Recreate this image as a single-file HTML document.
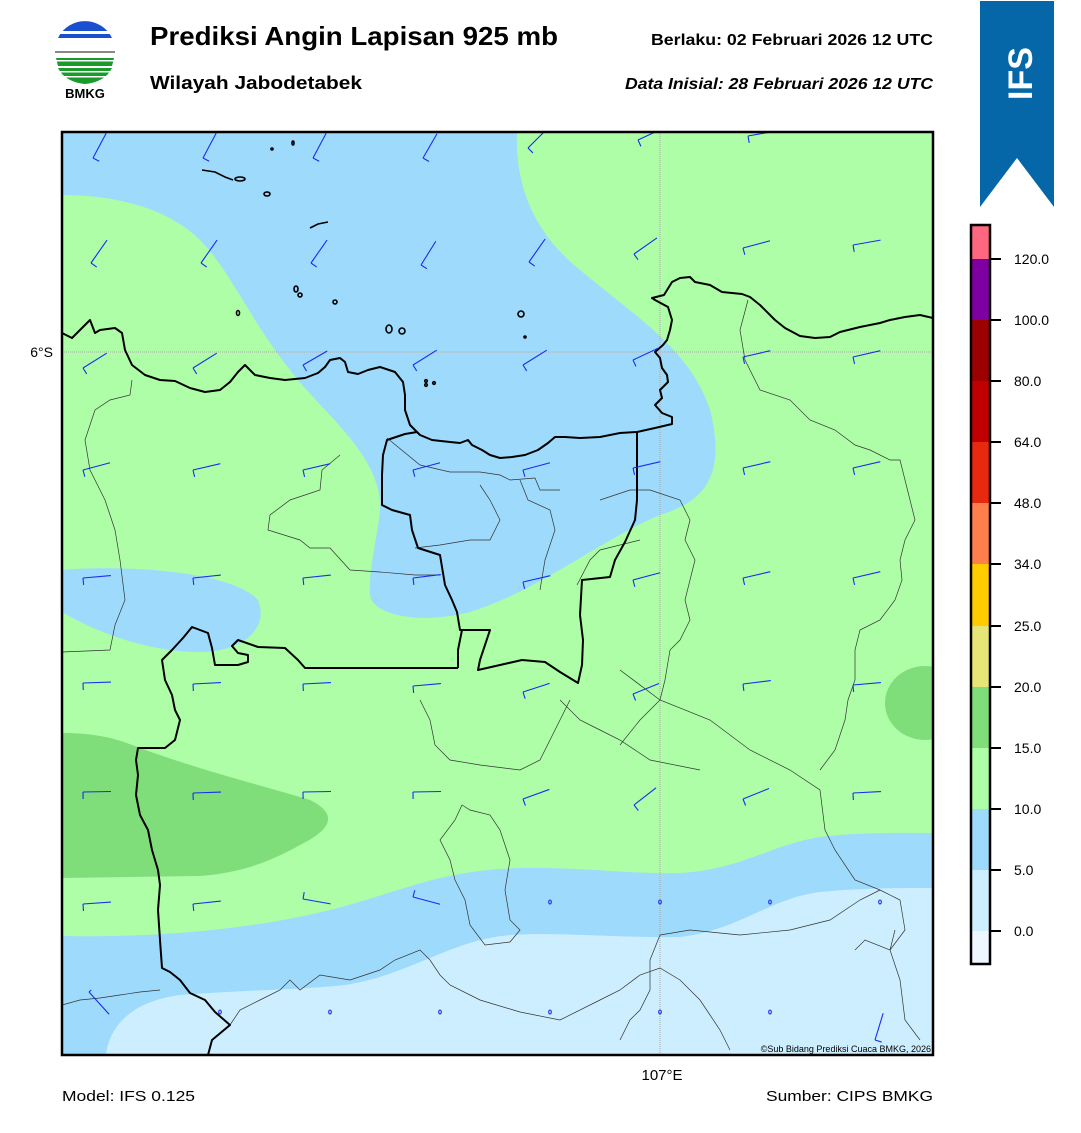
<!DOCTYPE html>
<html><head><meta charset="utf-8"><style>
body{margin:0;background:#fff;width:1081px;height:1128px;overflow:hidden;font-family:"Liberation Sans",Arial,sans-serif}
</style></head><body>
<svg width="1081" height="1128" viewBox="0 0 1081 1128" xmlns="http://www.w3.org/2000/svg" font-family="Liberation Sans, Arial, sans-serif">
<g>
<path d="M58,38 A30,30 0 0 1 112,38 Z" fill="#1a4fd0"/>
<rect x="56" y="31" width="58" height="3" fill="#fff"/>
<rect x="56" y="40" width="58" height="3" fill="#fff"/>
<rect x="55" y="51" width="60" height="2" fill="#888"/>
<path d="M56,58 L114,58 L112,66 L58,66 Z" fill="#1a9a2a"/>
<rect x="56" y="60" width="58" height="1.5" fill="#fff"/>
<path d="M58,68 L112,68 Q105,82 85,84 Q65,82 58,68 Z" fill="#1a9a2a"/>
<rect x="58" y="71" width="54" height="1.5" fill="#fff"/>
<rect x="60" y="76" width="50" height="1.5" fill="#fff"/>
<text x="85" y="98" font-size="13" font-weight="bold" text-anchor="middle">BMKG</text>
</g>
<text x="150" y="45" font-size="26" font-weight="bold" textLength="408" lengthAdjust="spacingAndGlyphs">Prediksi Angin Lapisan 925 mb</text>
<text x="150" y="89" font-size="18" font-weight="bold" textLength="212" lengthAdjust="spacingAndGlyphs">Wilayah Jabodetabek</text>
<text x="651" y="45" font-size="16" font-weight="bold" textLength="282" lengthAdjust="spacingAndGlyphs">Berlaku:  02 Februari 2026 12 UTC</text>
<text x="625" y="89" font-size="16" font-weight="bold" font-style="italic" textLength="308" lengthAdjust="spacingAndGlyphs">Data Inisial:  28 Februari 2026 12 UTC</text>
<path d="M980,1 L1054,1 L1054,207 L1017,158 L980,207 Z" fill="#0567a8"/>
<text x="0" y="0" font-size="34" font-weight="bold" fill="#fff" transform="translate(1032,100) rotate(-90)">IFS</text>

<defs><clipPath id="c"><rect x="62" y="132" width="871" height="923"/></clipPath></defs>
<g clip-path="url(#c)">
<rect x="62" y="132" width="871" height="923" fill="#adfea6"/>
<path d="M62,132 L517,132 C515,180 530,230 580,270 C640,320 690,350 710,410 C725,470 710,500 660,515 C600,540 540,590 470,612 C420,625 372,615 370,595 C368,565 382,520 380,500 C375,450 320,410 290,370 C250,320 230,270 200,240 C170,210 120,195 62,195 Z" fill="#9edafb"/>
<path d="M62,570 C120,565 230,570 258,600 C270,630 240,652 200,652 C160,652 110,640 62,612 Z" fill="#9edafb"/>
<path d="M62,733 C100,733 120,740 140,748 C200,770 260,785 310,800 C340,815 330,830 300,845 C270,862 240,873 200,876 L62,878 Z" fill="#7fde7a"/>
<ellipse cx="925" cy="703" rx="40" ry="37" fill="#7fde7a"/>
<path d="M62,936 C150,938 250,930 330,910 C400,893 440,868 530,868 C600,868 620,874 680,873 C740,870 770,845 820,837 C860,832 900,833 933,833 L933,1055 L62,1055 Z" fill="#9edafb"/>
<path d="M106,1055 C110,1020 140,1000 180,995 C240,990 300,990 345,985 C410,975 450,940 510,935 C560,932 620,938 680,937 C740,930 770,898 820,892 C860,888 900,888 933,888 L933,1055 Z" fill="#cdeefe"/>
<line x1="62" y1="352" x2="933" y2="352" stroke="#aaa" stroke-width="1" stroke-dasharray="1,1"/>
<line x1="660" y1="132" x2="660" y2="1055" stroke="#aaa" stroke-width="1" stroke-dasharray="1,1"/>
<g fill="none" stroke="#333" stroke-width="0.7">
<path d="M132,380 L130,395 L110,400 L95,410 L85,440 L90,470 L105,500 L115,530 L120,560 L125,600 L115,625 L110,650 L62,652"/>
<path d="M340,455 L322,470 L320,490 L290,500 L270,515 L268,530 L300,540 L310,548 L330,548 L350,570 L380,572 L415,575 L440,575"/>
<path d="M387,438 L420,465 L450,472 L480,472 L500,475 L510,480 L535,478 L540,490 L560,490"/>
<path d="M520,480 L528,500 L550,510 L555,530 L545,560 L540,590"/>
<path d="M415,548 L440,545 L470,540 L490,540 L500,520 L490,500 L480,485"/>
<path d="M577,585 L590,560 L600,550 L620,545 L640,540"/>
<path d="M600,500 L630,490 L650,490 L680,500 L690,520 L685,540 L695,560 L685,600 L690,620 L680,640 L670,650 L665,680 L660,700 L640,720 L620,745"/>
<path d="M560,700 L580,720 L600,730 L620,740 L650,760 L700,770"/>
<path d="M570,700 L560,720 L550,740 L540,760 L520,770 L480,765 L450,760 L435,745 L430,720 L420,700"/>
<path d="M748,300 L740,330 L745,360 L760,390 L790,400 L810,420 L835,430 L855,445 L870,450 L890,460 L900,460 L905,480 L910,500 L915,520 L905,540 L900,560 L902,580 L895,600 L880,620 L860,630 L855,650 L855,680 L848,700 L845,720 L835,750 L820,770"/>
<path d="M620,670 L660,700 L710,720 L750,750 L790,770 L820,790 L825,830 L835,850 L855,880 L880,890 L900,900 L905,930 L890,950 L900,980 L905,1020 L920,1040"/>
<path d="M855,950 L865,940 L890,950 L895,930"/>
<path d="M462,805 L470,810 L490,815 L500,830 L510,860 L505,890 L510,920 L520,930 L510,942 L485,945 L470,925 L465,900 L455,880 L450,860 L440,840 L455,820 Z"/>
<path d="M230,1025 L240,1010 L260,1000 L280,990 L290,980 L300,990 L320,975 L350,980 L380,970 L395,960 L420,950 L430,960 L440,975 L450,985 L480,1000 L520,1012 L560,1020 L600,1000 L620,990 L640,975 L660,968 L680,980 L700,1000 L710,1015 L720,1030 L730,1050"/>
<path d="M660,935 L650,960 L650,990 L640,1010 L630,1020 L620,1040"/>
<path d="M660,935 L690,930 L740,935 L790,930 L830,920 L860,900 L880,890"/>
<path d="M62,1005 L80,1000 L100,998 L120,995 L140,992 L160,990"/>
</g>
<g fill="none" stroke="#000" stroke-width="2" stroke-linejoin="round">
<path d="M62,333 L72,338 L80,330 L90,320 L95,333 L100,330 L115,328 L122,333 L125,350 L132,365 L145,375 L160,380 L175,381 L190,388 L205,392 L220,390 L230,382 L238,372 L245,365 L255,375 L270,378 L285,380 L305,378 L318,373 L325,367 L330,360 L340,358 L345,362 L348,372 L358,374 L368,370 L380,367 L395,372 L403,382 L405,395 L405,410 L410,425 L420,435 L432,440 L450,442 L460,443 L468,440 L472,445 L482,450 L490,455 L500,458 L512,457 L525,455 L538,450 L548,443 L555,437 L565,437 L580,438 L600,437 L620,433 L637,432 L655,428 L672,424 L672,417 L662,413 L655,405 L662,398 L660,390 L668,382 L667,375 L662,368 L660,358 L655,352 L663,345 L667,340 L670,330 L672,320 L668,307 L655,300 L652,298 L664,295 L672,282 L680,278 L690,277 L695,282 L710,285 L722,292 L742,294 L750,297 L760,305 L775,320 L785,328 L800,336 L815,338 L830,337 L840,332 L860,327 L880,323 L890,320 L905,317 L920,315 L933,318"/>
<path d="M417,432 L405,434 L387,440 L383,455 L382,475 L382,505 L392,510 L410,515 L412,530 L418,548 L440,555 L445,585 L452,600 L457,612 L460,630 L490,630 L480,660 L478,670 L500,665 L522,660 L545,662 L560,672 L578,683 L582,665 L583,640 L580,615 L582,580 L610,577 L615,560 L625,542 L635,520 L637,500 L637,432"/>
<path d="M458,668 L458,650 L462,630"/>
<path d="M208,1055 L212,1040 L230,1025 L215,1012 L205,1000 L190,993 L180,980 L170,972 L162,968 L160,940 L158,910 L160,885 L158,870 L152,850 L148,830 L140,815 L136,795 L138,775 L136,760 L138,748 L152,748 L165,748 L175,740 L180,720 L175,710 L172,695 L165,680 L162,660 L172,650 L183,638 L192,627 L208,633 L212,648 L215,665 L238,665 L248,662 L248,655 L238,653 L232,646 L238,640 L258,647 L285,648 L298,660 L305,668 L330,668 L360,668 L400,668 L458,668"/>
</g>
<g fill="none" stroke="#000" stroke-width="1.6">
<path d="M202,170 L215,172 L225,177 L233,180"/><ellipse cx="240" cy="179" rx="5" ry="2"/>
<ellipse cx="267" cy="194" rx="3" ry="2"/><ellipse cx="293" cy="143" rx="1" ry="2"/><ellipse cx="272" cy="149" rx="1" ry="1"/>
<path d="M310,228 L318,224 L328,222"/>
<ellipse cx="296" cy="289" rx="2" ry="3"/><ellipse cx="300" cy="295" rx="2" ry="2"/><ellipse cx="335" cy="302" rx="2" ry="2"/>
<ellipse cx="238" cy="313" rx="1.5" ry="2.5"/><ellipse cx="389" cy="329" rx="3" ry="4"/><ellipse cx="402" cy="331" rx="3" ry="3"/>
<ellipse cx="521" cy="314" rx="3" ry="3"/><circle cx="525" cy="337" r="1"/>
<circle cx="426" cy="381" r="1.3"/><circle cx="426" cy="385" r="1.3"/><circle cx="434" cy="383" r="1.3"/>
</g>
<g fill="none" stroke="#1a2cf0" stroke-width="1.1">
<g transform="translate(93,158) rotate(-62)"><path d="M0,0 H28 M0,0 V7"/></g>
<g transform="translate(203,158) rotate(-62)"><path d="M0,0 H28 M0,0 V7"/></g>
<g transform="translate(313,158) rotate(-62)"><path d="M0,0 H28 M0,0 V7"/></g>
<g transform="translate(423,158) rotate(-60)"><path d="M0,0 H28 M0,0 V7"/></g>
<g transform="translate(528,148) rotate(-45)"><path d="M0,0 H28 M0,0 V7"/></g>
<g transform="translate(638,140) rotate(-25)"><path d="M0,0 H28 M0,0 V7"/></g>
<g transform="translate(748,136) rotate(-10)"><path d="M0,0 H28 M0,0 V7"/></g>
<g transform="translate(91,263) rotate(-55)"><path d="M0,0 H28 M0,0 V7"/></g>
<g transform="translate(201,263) rotate(-55)"><path d="M0,0 H28 M0,0 V7"/></g>
<g transform="translate(311,263) rotate(-55)"><path d="M0,0 H28 M0,0 V7"/></g>
<g transform="translate(421,265) rotate(-58)"><path d="M0,0 H28 M0,0 V7"/></g>
<g transform="translate(529,262) rotate(-55)"><path d="M0,0 H28 M0,0 V7"/></g>
<g transform="translate(634,254) rotate(-35)"><path d="M0,0 H28 M0,0 V7"/></g>
<g transform="translate(743,248) rotate(-15)"><path d="M0,0 H28 M0,0 V7"/></g>
<g transform="translate(853,245) rotate(-10)"><path d="M0,0 H28 M0,0 V7"/></g>
<g transform="translate(83,368) rotate(-32)"><path d="M0,0 H28 M0,0 V7"/></g>
<g transform="translate(193,368) rotate(-32)"><path d="M0,0 H28 M0,0 V7"/></g>
<g transform="translate(303,365) rotate(-30)"><path d="M0,0 H28 M0,0 V7"/></g>
<g transform="translate(413,365) rotate(-32)"><path d="M0,0 H28 M0,0 V7"/></g>
<g transform="translate(523,365) rotate(-32)"><path d="M0,0 H28 M0,0 V7"/></g>
<g transform="translate(633,360) rotate(-25)"><path d="M0,0 H28 M0,0 V7"/></g>
<g transform="translate(743,357) rotate(-13)"><path d="M0,0 H28 M0,0 V7"/></g>
<g transform="translate(853,357) rotate(-13)"><path d="M0,0 H28 M0,0 V7"/></g>
<g transform="translate(83,470) rotate(-15)"><path d="M0,0 H28 M0,0 V7"/></g>
<g transform="translate(193,470) rotate(-13)"><path d="M0,0 H28 M0,0 V7"/></g>
<g transform="translate(303,470) rotate(-13)"><path d="M0,0 H28 M0,0 V7"/></g>
<g transform="translate(413,470) rotate(-15)"><path d="M0,0 H28 M0,0 V7"/></g>
<g transform="translate(523,470) rotate(-15)"><path d="M0,0 H28 M0,0 V7"/></g>
<g transform="translate(633,468) rotate(-13)"><path d="M0,0 H28 M0,0 V7"/></g>
<g transform="translate(743,468) rotate(-13)"><path d="M0,0 H28 M0,0 V7"/></g>
<g transform="translate(853,468) rotate(-13)"><path d="M0,0 H28 M0,0 V7"/></g>
<g transform="translate(83,578) rotate(-5)"><path d="M0,0 H28 M0,0 V7"/></g>
<g transform="translate(193,578) rotate(-6)"><path d="M0,0 H28 M0,0 V7"/></g>
<g transform="translate(303,578) rotate(-6)"><path d="M0,0 H28 M0,0 V7"/></g>
<g transform="translate(413,578) rotate(-7)"><path d="M0,0 H28 M0,0 V7"/></g>
<g transform="translate(523,582) rotate(-13)"><path d="M0,0 H28 M0,0 V7"/></g>
<g transform="translate(633,580) rotate(-15)"><path d="M0,0 H28 M0,0 V7"/></g>
<g transform="translate(743,578) rotate(-13)"><path d="M0,0 H28 M0,0 V7"/></g>
<g transform="translate(853,578) rotate(-13)"><path d="M0,0 H28 M0,0 V7"/></g>
<g transform="translate(83,683) rotate(-2)"><path d="M0,0 H28 M0,0 V7"/></g>
<g transform="translate(193,684) rotate(-3)"><path d="M0,0 H28 M0,0 V7"/></g>
<g transform="translate(303,684) rotate(-3)"><path d="M0,0 H28 M0,0 V7"/></g>
<g transform="translate(413,686) rotate(-5)"><path d="M0,0 H28 M0,0 V7"/></g>
<g transform="translate(523,692) rotate(-18)"><path d="M0,0 H28 M0,0 V7"/></g>
<g transform="translate(633,694) rotate(-22)"><path d="M0,0 H28 M0,0 V7"/></g>
<g transform="translate(743,684) rotate(-7)"><path d="M0,0 H28 M0,0 V7"/></g>
<g transform="translate(853,685) rotate(-5)"><path d="M0,0 H28 M0,0 V7"/></g>
<g transform="translate(83,792) rotate(-1)"><path d="M0,0 H28 M0,0 V7"/></g>
<g transform="translate(193,793) rotate(-2)"><path d="M0,0 H28 M0,0 V7"/></g>
<g transform="translate(303,792) rotate(-1)"><path d="M0,0 H28 M0,0 V7"/></g>
<g transform="translate(413,792) rotate(-1)"><path d="M0,0 H28 M0,0 V7"/></g>
<g transform="translate(523,799) rotate(-20)"><path d="M0,0 H28 M0,0 V7"/></g>
<g transform="translate(634,805) rotate(-38)"><path d="M0,0 H28 M0,0 V7"/></g>
<g transform="translate(743,799) rotate(-22)"><path d="M0,0 H28 M0,0 V7"/></g>
<g transform="translate(853,793) rotate(-3)"><path d="M0,0 H28 M0,0 V7"/></g>
<g transform="translate(83,904) rotate(-4)"><path d="M0,0 H28 M0,0 V7"/></g>
<g transform="translate(193,904) rotate(-6)"><path d="M0,0 H28 M0,0 V7"/></g>
<g transform="translate(303,899) rotate(10)"><path d="M0,0 H28 M0,0 V-7"/></g>
<g transform="translate(413,897) rotate(15)"><path d="M0,0 H28 M0,0 V-7"/></g>
<g transform="translate(89,992) rotate(48)"><path d="M0,0 H30 M0,0 V-3"/></g>
<g transform="translate(875,1040) rotate(-73)"><path d="M0,0 H28 M0,0 V7"/></g>
<ellipse cx="550" cy="902" rx="1.3" ry="2"/><ellipse cx="660" cy="902" rx="1.3" ry="2"/><ellipse cx="770" cy="902" rx="1.3" ry="2"/><ellipse cx="880" cy="902" rx="1.3" ry="2"/>
<ellipse cx="220" cy="1012" rx="1.3" ry="2"/><ellipse cx="330" cy="1012" rx="1.3" ry="2"/><ellipse cx="440" cy="1012" rx="1.3" ry="2"/><ellipse cx="550" cy="1012" rx="1.3" ry="2"/><ellipse cx="660" cy="1012" rx="1.3" ry="2"/><ellipse cx="770" cy="1012" rx="1.3" ry="2"/>
</g>
<text x="931" y="1052" font-size="9" text-anchor="end">©Sub Bidang Prediksi Cuaca BMKG, 2026</text>
</g>
<rect x="62" y="132" width="871" height="923" fill="none" stroke="#000" stroke-width="2.5"/>
<text x="53" y="357" font-size="14" text-anchor="end">6°S</text>
<text x="662" y="1080" font-size="15" text-anchor="middle">107°E</text>
<text x="62" y="1101" font-size="15" textLength="133" lengthAdjust="spacingAndGlyphs">Model: IFS 0.125</text>
<text x="766" y="1101" font-size="15" textLength="167" lengthAdjust="spacingAndGlyphs">Sumber: CIPS BMKG</text>

<g>
<rect x="971" y="225" width="19" height="34" fill="#ff6680"/>
<rect x="971" y="259" width="19" height="61" fill="#7f00a0"/>
<rect x="971" y="320" width="19" height="61" fill="#9c0000"/>
<rect x="971" y="381" width="19" height="61" fill="#c00000"/>
<rect x="971" y="442" width="19" height="61" fill="#e6290f"/>
<rect x="971" y="503" width="19" height="61" fill="#ff7f4c"/>
<rect x="971" y="564" width="19" height="62" fill="#ffcc00"/>
<rect x="971" y="626" width="19" height="61" fill="#e6e678"/>
<rect x="971" y="687" width="19" height="61" fill="#7fde7a"/>
<rect x="971" y="748" width="19" height="61" fill="#adfea6"/>
<rect x="971" y="809" width="19" height="61" fill="#9edafb"/>
<rect x="971" y="870" width="19" height="61" fill="#cdeefe"/>
<rect x="971" y="931" width="19" height="33" fill="#eef6ff"/>
<rect x="971" y="225" width="19" height="739" fill="none" stroke="#000" stroke-width="2.5"/>
<g stroke="#000" stroke-width="2">
<line x1="990" y1="259" x2="1001" y2="259"/><line x1="990" y1="320" x2="1001" y2="320"/><line x1="990" y1="381" x2="1001" y2="381"/><line x1="990" y1="442" x2="1001" y2="442"/><line x1="990" y1="503" x2="1001" y2="503"/><line x1="990" y1="564" x2="1001" y2="564"/><line x1="990" y1="626" x2="1001" y2="626"/><line x1="990" y1="687" x2="1001" y2="687"/><line x1="990" y1="748" x2="1001" y2="748"/><line x1="990" y1="809" x2="1001" y2="809"/><line x1="990" y1="870" x2="1001" y2="870"/><line x1="990" y1="931" x2="1001" y2="931"/>
</g>
<g font-size="14" fill="#000">
<text x="1014" y="264">120.0</text><text x="1014" y="325">100.0</text><text x="1014" y="386">80.0</text><text x="1014" y="447">64.0</text><text x="1014" y="508">48.0</text><text x="1014" y="569">34.0</text><text x="1014" y="631">25.0</text><text x="1014" y="692">20.0</text><text x="1014" y="753">15.0</text><text x="1014" y="814">10.0</text><text x="1014" y="875">5.0</text><text x="1014" y="936">0.0</text>
</g>
</g>
</svg>
</body></html>
